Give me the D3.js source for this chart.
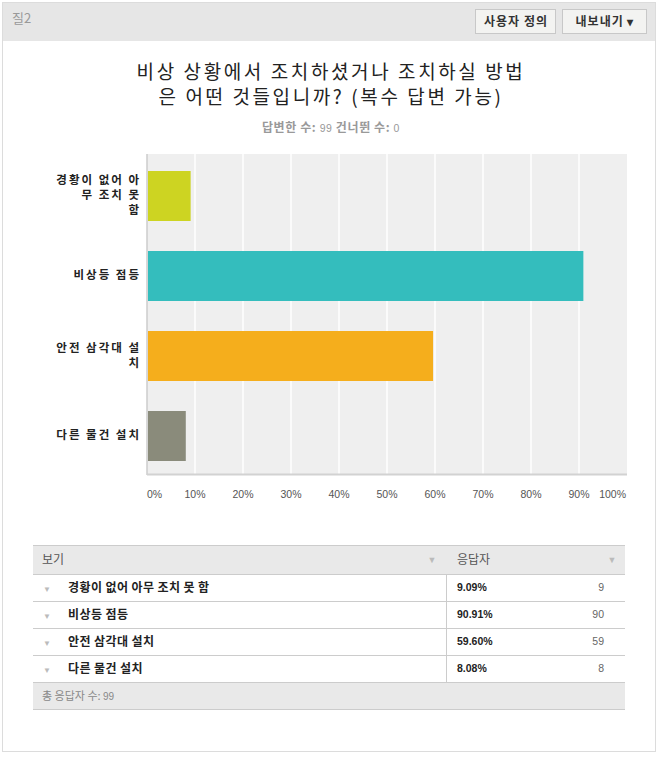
<!DOCTYPE html>
<html><head><meta charset="utf-8">
<script src="https://cdn.jsdelivr.net/npm/d3@7"></script>
<style>
html,body{margin:0;padding:0;background:#fff;}
svg{display:block;}
</style></head>
<body>
<svg id="c" width="660" height="757"></svg>
<script>
const categories = ["경황이 없어 아무 조치 못 함", "비상등 점등", "안전 삼각대 설치", "다른 물건 설치"];
const labelLines = [["경황이 없어 아", "무 조치 못", "함"], ["비상등 점등"], ["안전 삼각대 설", "치"], ["다른 물건 설치"]];
const percents = [9.09, 90.91, 59.60, 8.08];
const counts = [9, 90, 59, 8];
const barColors = ["#cdd422", "#34bdbd", "#f5ae1c", "#8a8b7b"];
const xTicks = [0, 10, 20, 30, 40, 50, 60, 70, 80, 90, 100];
const answered = 99, skipped = 0, total = 99;

const KR = "'Noto Sans CJK KR','Noto Sans',sans-serif";
const LAT = "'Liberation Sans',Arial,sans-serif";
const svg = d3.select("#c");

// outer panel
svg.append("rect").attr("x",2.5).attr("y",2.5).attr("width",653).attr("height",749)
  .attr("fill","#fff").attr("stroke","#dcdcdc");
svg.append("rect").attr("x",3).attr("y",3).attr("width",652).attr("height",38).attr("fill","#e6e6e6");
svg.append("text").attr("x",12).attr("y",23).attr("font-family",KR).attr("font-size",13)
  .attr("fill","#999").text("질2");

// buttons
const btns = [{t:"사용자 정의",x:475,w:80},{t:"내보내기 ▾",x:562,w:84}];
btns.forEach(b=>{
  svg.append("rect").attr("x",b.x+0.5).attr("y",9.5).attr("width",b.w).attr("height",24)
    .attr("fill","#f3f3f1").attr("stroke","#c8c8c8");
  svg.append("text").attr("x",b.x+b.w/2+1).attr("y",26).attr("text-anchor","middle")
    .attr("font-family",KR).attr("font-size",12).attr("font-weight","bold").attr("letter-spacing",1)
    .attr("fill","#333").text(b.t);
});

// title
const title = ["비상 상황에서 조치하셨거나 조치하실 방법", "은 어떤 것들입니까? (복수 답변 가능)"];
title.forEach((t,i)=>{
  svg.append("text").attr("x",331).attr("y",79+i*25).attr("text-anchor","middle")
    .attr("font-family",KR).attr("font-size",19).attr("letter-spacing",2.6).attr("fill","#222").text(t);
});
const sub = svg.append("text").attr("x",331).attr("y",132).attr("text-anchor","middle")
  .attr("font-family",KR).attr("font-size",12).attr("font-weight","bold").attr("letter-spacing",0.6).attr("fill","#999");
sub.append("tspan").text("답변한 수: ");
sub.append("tspan").attr("font-family",LAT).attr("font-weight","normal").attr("font-size",10.5).text(answered);
sub.append("tspan").text("     건너뛴 수: ");
sub.append("tspan").attr("font-family",LAT).attr("font-weight","normal").attr("font-size",10.5).text(skipped);

// chart
const L=147, R=627, T=154, B=474;
const x = d3.scaleLinear().domain([0,100]).range([L,R]);
const y = d3.scaleBand().domain(categories).range([T+2,B+2]).paddingInner(0.375).paddingOuter(0.1875);

svg.append("rect").attr("x",L).attr("y",T).attr("width",R-L).attr("height",B-T).attr("fill","#efefef");
svg.selectAll(".grid").data(xTicks.slice(1,-1)).enter().append("line")
  .attr("x1",d=>x(d)).attr("x2",d=>x(d)).attr("y1",T).attr("y2",B)
  .attr("stroke","#fff").attr("stroke-width",1.5);
svg.append("line").attr("x1",L).attr("x2",L).attr("y1",T).attr("y2",B+1).attr("stroke","#ccc").attr("stroke-width",1.5);
svg.append("line").attr("x1",L).attr("x2",R).attr("y1",B+0.5).attr("y2",B+0.5).attr("stroke","#d2d2d2").attr("stroke-width",2);

svg.selectAll(".bar").data(categories).enter().append("rect")
  .attr("x",x(0)+1).attr("y",d=>y(d)).attr("height",y.bandwidth())
  .attr("width",(d,i)=>x(percents[i])-x(0)-1).attr("fill",(d,i)=>barColors[i]);

// y labels
categories.forEach((c,i)=>{
  const lines = labelLines[i];
  const cy = y(c)+y.bandwidth()/2 - 1;
  const lh = 15;
  lines.forEach((ln,j)=>{
    svg.append("text").attr("x",141).attr("y",cy+(j-(lines.length-1)/2)*lh).attr("dy","0.36em")
      .attr("text-anchor","end").attr("font-family",KR).attr("font-size",11.5).attr("font-weight","bold")
      .attr("letter-spacing",2).attr("fill","#222").text(ln);
  });
});

// x ticks
svg.selectAll(".xt").data(xTicks).enter().append("text")
  .attr("x",d=>d===0?x(0):(d===100?x(100)-1:x(d)))
  .attr("y",494).attr("dy","0.35em")
  .attr("text-anchor",d=>d===0?"start":(d===100?"end":"middle"))
  .attr("font-family",LAT).attr("font-size",10.5).attr("fill","#555").text(d=>d+"%");

// table
const TL=33, TR=625, DIV=446;
const rowY = d3.scaleBand().domain(categories).range([574,682]);
svg.append("rect").attr("x",TL).attr("y",545).attr("width",TR-TL).attr("height",29).attr("fill","#e9e9e9");
svg.append("line").attr("x1",TL).attr("x2",TR).attr("y1",545.5).attr("y2",545.5).attr("stroke","#ccc");
svg.append("text").attr("x",42).attr("y",564).attr("font-family",KR).attr("font-size",12).attr("fill","#555").text("보기");
svg.append("text").attr("x",457).attr("y",564).attr("font-family",KR).attr("font-size",12).attr("fill","#555").text("응답자");
[432,612].forEach(ax=>{
  svg.append("text").attr("x",ax).attr("y",563).attr("text-anchor","middle").attr("font-family",LAT)
    .attr("font-size",9).attr("fill","#bbb").text("▼");
});
svg.append("line").attr("x1",DIV+0.5).attr("x2",DIV+0.5).attr("y1",574).attr("y2",682).attr("stroke","#ccc");
categories.forEach((c,i)=>{
  const ry = rowY(c), h = rowY.bandwidth();
  svg.append("line").attr("x1",TL).attr("x2",TR).attr("y1",ry+0.5).attr("y2",ry+0.5).attr("stroke","#ccc");
  svg.append("text").attr("x",47).attr("y",ry+h/2+4).attr("text-anchor","middle").attr("font-family",LAT)
    .attr("font-size",8).attr("fill","#bbb").text("▼");
  svg.append("text").attr("x",68).attr("y",ry+h/2).attr("dy","0.36em").attr("font-family",KR)
    .attr("font-size",12).attr("font-weight","bold").attr("letter-spacing",0.4).attr("fill","#222").text(c);
  svg.append("text").attr("x",457).attr("y",ry+h/2).attr("dy","0.36em").attr("font-family",LAT)
    .attr("font-size",10.5).attr("font-weight","bold").attr("fill","#222").text(percents[i].toFixed(2)+"%");
  svg.append("text").attr("x",604).attr("y",ry+h/2).attr("dy","0.36em").attr("text-anchor","end").attr("font-family",LAT)
    .attr("font-size",10.5).attr("fill","#666").text(counts[i]);
});
svg.append("rect").attr("x",TL).attr("y",682).attr("width",TR-TL).attr("height",27).attr("fill","#e9e9e9");
svg.append("line").attr("x1",TL).attr("x2",TR).attr("y1",682.5).attr("y2",682.5).attr("stroke","#ccc");
svg.append("line").attr("x1",TL).attr("x2",TR).attr("y1",709.5).attr("y2",709.5).attr("stroke","#ccc");
const ft = svg.append("text").attr("x",42).attr("y",700).attr("font-family",KR).attr("font-size",11).attr("fill","#888");
ft.append("tspan").text("총 응답자 수: ");
ft.append("tspan").attr("font-family",LAT).attr("font-size",10).text(total);
</script>
</body></html>
